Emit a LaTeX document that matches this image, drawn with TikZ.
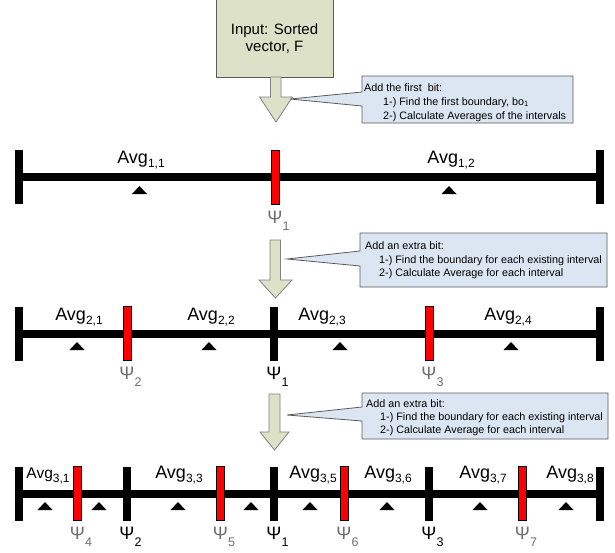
\documentclass[tikz,border=0pt]{standalone}
\usepackage{fontspec}
\setmainfont{Liberation Sans}
\definecolor{boxolive}{RGB}{221,225,200}
\definecolor{boxedge}{RGB}{90,90,90}
\definecolor{callblue}{RGB}{220,230,242}
\definecolor{psigray}{RGB}{110,110,110}
\newcommand\mytri[2]{\fill (#1-7.5,#2+8) -- (#1,#2) -- (#1+7.5,#2+8) -- cycle;}
\newcommand\sub[1]{\raisebox{-4pt}{\fontsize{12}{12}\selectfont #1}}
\newcommand\psub[1]{\rlap{\raisebox{-7pt}{\fontsize{12.5}{12.5}\selectfont #1}}}
\begin{document}
\begin{tikzpicture}[x=1pt,y=-1pt,
  blackbar/.style={minimum width=8pt,minimum height=54pt,inner sep=0pt,outer sep=0pt,fill=black,draw=none},
  redbar/.style={minimum width=8pt,minimum height=54pt,inner sep=0pt,outer sep=0pt,fill=red,draw=black,line width=0.5pt},
  mainline/.style={line width=8pt},
  avg/.style={font=\fontsize{18}{20}\selectfont,inner sep=0pt,anchor=base},
  psi/.style={font=\fontsize{18}{20}\selectfont,inner sep=0pt,anchor=base},
  calltext/.style={font=\fontsize{10.8}{13}\selectfont,inner sep=0pt,anchor=base west},
  bigarrow/.style={fill=boxolive,draw=gray,line width=0.8pt},
  callout/.style={fill=callblue,draw=boxedge,line width=0.8pt}]
\useasboundingbox (0,0) rectangle (615,552);

% input box
\fill[boxolive,draw=boxedge,line width=0.8pt] (216,-2) rectangle (333,77);
\node[font=\fontsize{15}{17}\selectfont,align=center,inner sep=0pt] (inp) at (274.5,38.5) {Input: Sorted\\vector, F};

% arrows between levels
\draw[bigarrow] (270.5,77) -- (281,77) -- (281,97) -- (292.5,97) -- (276,122) -- (259.5,97) -- (270.5,97) -- cycle;
\draw[bigarrow] (270,240) -- (280.5,240) -- (280.5,280) -- (292,280) -- (275.5,298) -- (259,280) -- (270,280) -- cycle;
\draw[bigarrow] (269,394) -- (280,394) -- (280,432) -- (289,432) -- (274.5,450) -- (260,432) -- (269,432) -- cycle;

% callouts
\draw[callout] (362,76) -- (573,76) -- (573,123) -- (362,123) -- (362,106) -- (290,99) -- (362,92) -- cycle;
\node[calltext] (c1a) at (364,91) {Add the first\space\space bit:};
\node[calltext] (c1b) at (383,105) {1-) Find the first boundary, bo\textsubscript{1}};
\node[calltext] (c1c) at (383,119) {2-) Calculate Averages of the intervals};

\draw[callout] (360,233) -- (607,233) -- (607,287) -- (360,287) -- (360,266) -- (287,259) -- (360,251) -- cycle;
\node[calltext] (c2a) at (365,249) {Add an extra bit:};
\node[calltext] (c2b) at (379,263) {1-) Find the boundary for each existing interval};
\node[calltext] (c2c) at (379,276) {2-) Calculate Average for each interval};

\draw[callout] (362,393) -- (608,393) -- (608,439) -- (362,439) -- (362,421) -- (287,415) -- (362,407) -- cycle;
\node[calltext] (c3a) at (366,407) {Add an extra bit:};
\node[calltext] (c3b) at (380,420) {1-) Find the boundary for each existing interval};
\node[calltext] (c3c) at (380,433) {2-) Calculate Average for each interval};

% ---------- level 1 ----------
\coordinate (l1a) at (19,177);
\coordinate (l1b) at (599.5,177);
\draw[mainline] (l1a) -- (l1b);
\node[blackbar] (b1l) at (19,177) {};
\node[blackbar] (b1r) at (599.5,177) {};
\node[redbar] (b1p1) at (275,177) {};
\mytri{139.5}{186}
\mytri{449}{186}
\node[avg] (a11) at (141,163) {Avg\sub{1,1}};
\node[avg] (a12) at (451,163) {Avg\sub{1,2}};
\node[psi,text=psigray] (s1p1) at (275,223) {Ψ\psub{1}};

% ---------- level 2 ----------
\coordinate (l2a) at (19,333.5);
\coordinate (l2b) at (599.5,333.5);
\draw[mainline] (l2a) -- (l2b);
\node[blackbar] (b2l) at (19,333.5) {};
\node[blackbar] (b2r) at (599.5,333.5) {};
\node[blackbar] (b2p1) at (274,333.5) {};
\node[redbar] (b2p2) at (127,333.5) {};
\node[redbar] (b2p3) at (429,333.5) {};
\mytri{77}{342}
\mytri{209}{342}
\mytri{340}{342}
\mytri{511}{342}
\node[avg] (a21) at (79,320) {Avg\sub{2,1}};
\node[avg] (a22) at (211,320) {Avg\sub{2,2}};
\node[avg] (a23) at (322,320) {Avg\sub{2,3}};
\node[avg] (a24) at (508,320) {Avg\sub{2,4}};
\node[psi,text=psigray] (s2p2) at (127,379) {Ψ\psub{2}};
\node[psi] (s2p1) at (274,379) {Ψ\psub{1}};
\node[psi,text=psigray] (s2p3) at (429,379) {Ψ\psub{3}};

% ---------- level 3 ----------
\coordinate (l3a) at (19,493.5);
\coordinate (l3b) at (599.5,493.5);
\draw[mainline] (l3a) -- (l3b);
\node[blackbar] (b3l) at (19,493.5) {};
\node[blackbar] (b3r) at (599.5,493.5) {};
\node[blackbar] (b3p2) at (127,493.5) {};
\node[blackbar] (b3p1) at (274,493.5) {};
\node[blackbar] (b3p3) at (429,493.5) {};
\node[redbar] (b3p4) at (77.5,493.5) {};
\node[redbar] (b3p5) at (220.5,493.5) {};
\node[redbar] (b3p6) at (344,493.5) {};
\node[redbar] (b3p7) at (522.5,493.5) {};
\mytri{45}{502}
\mytri{99}{502}
\mytri{178}{502}
\mytri{251}{502}
\mytri{310}{502}
\mytri{387}{502}
\mytri{480}{502}
\mytri{566}{502}
\node[avg,font=\fontsize{15.5}{17}\selectfont] (a31) at (48,478) {Avg\sub{3,1}};
\node[avg] (a33) at (179,478) {Avg\sub{3,3}};
\node[avg] (a35) at (313,478) {Avg\sub{3,5}};
\node[avg] (a36) at (388,478) {Avg\sub{3,6}};
\node[avg] (a37) at (483,478) {Avg\sub{3,7}};
\node[avg] (a38) at (570,478) {Avg\sub{3,8}};
\node[psi,text=psigray] (s3p4) at (77.5,539) {Ψ\psub{4}};
\node[psi] (s3p2) at (127,539) {Ψ\psub{2}};
\node[psi,text=psigray] (s3p5) at (220.5,539) {Ψ\psub{5}};
\node[psi] (s3p1) at (274,539) {Ψ\psub{1}};
\node[psi,text=psigray] (s3p6) at (344,539) {Ψ\psub{6}};
\node[psi] (s3p3) at (429,539) {Ψ\psub{3}};
\node[psi,text=psigray] (s3p7) at (522.5,539) {Ψ\psub{7}};
\end{tikzpicture}
\end{document}
